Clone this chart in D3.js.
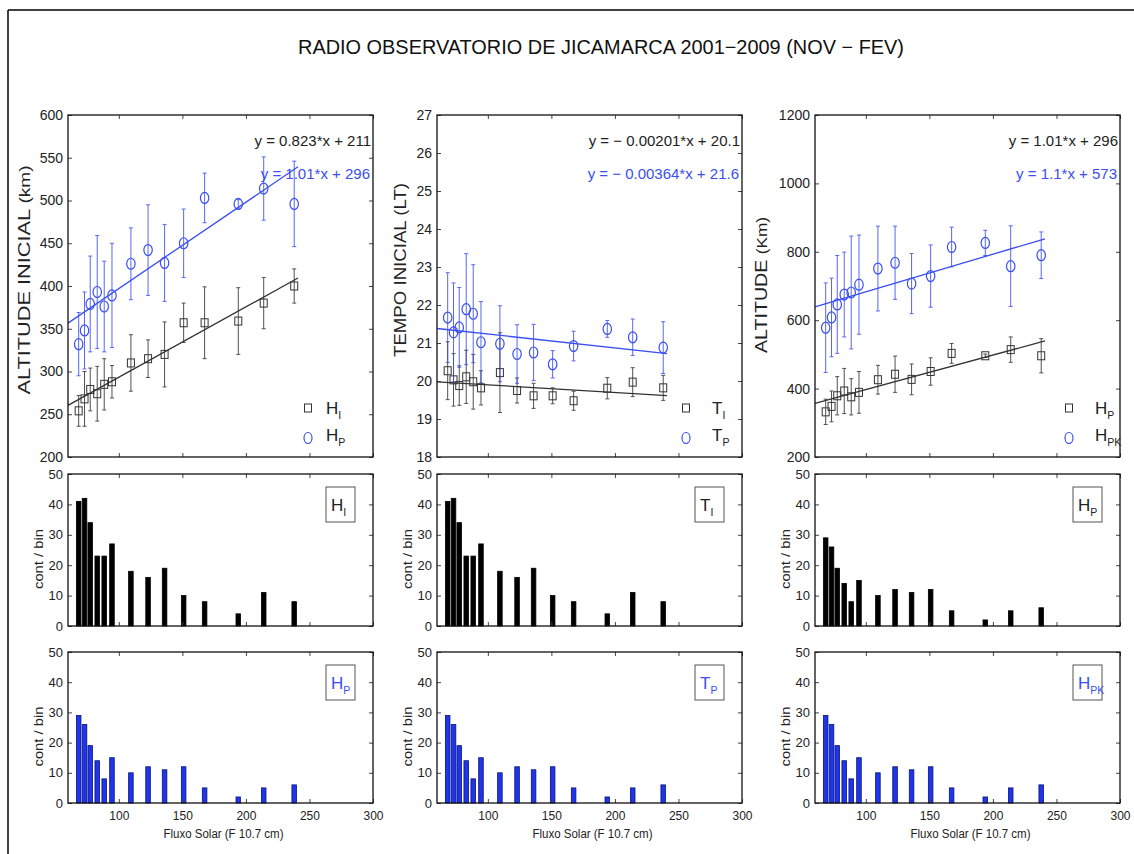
<!DOCTYPE html>
<html><head><meta charset="utf-8">
<script src="https://cdn.jsdelivr.net/npm/d3@7"></script>
<style>
body{margin:0;background:#fff}
svg{display:block}
text{font-family:"Liberation Sans",Arial,Helvetica,sans-serif}
</style>
</head><body>
<svg id="c" width="1134" height="854"></svg>
<script>
// ---------------- DATA ----------------
const titleText = "RADIO OBSERVATORIO DE JICAMARCA 2001\u22122009 (NOV \u2212 FEV)";
const flux = [68.4, 73, 77.5, 83, 88.5, 94.6, 109.5, 123, 136, 151, 167.5, 194, 214, 238];
const hIni    = [254, 268, 279, 274, 285, 288, 310, 315, 320, 357, 357, 359, 380, 400];
const hIniErr = [18, 32, 25, 32, 30, 19, 33, 22, 38, 23, 42, 39, 30, 20];
const hPre    = [332, 348, 379, 393, 376, 389, 426, 442, 427, 450, 503, 496, 514, 496];
const hPreErr = [37, 45, 56, 66, 53, 61, 42, 53, 45, 40, 29, 5, 37, 50];
const tIni    = [20.27, 20.03, 19.88, 20.11, 19.98, 19.82, 20.22, 19.75, 19.61, 19.61, 19.48, 19.81, 19.97, 19.82];
const tIniErr = [0.76, 0.69, 0.52, 0.7, 0.72, 0.45, 1.05, 0.33, 0.33, 0.21, 0.25, 0.28, 0.38, 0.33];
const tPre    = [21.67, 21.28, 21.41, 21.89, 21.77, 21.02, 20.98, 20.71, 20.75, 20.44, 20.92, 21.37, 21.15, 20.88];
const tPreErr = [1.18, 1.3, 1.05, 1.46, 1.29, 1.07, 1.0, 0.77, 0.74, 0.36, 0.39, 0.22, 0.48, 0.68];
const hPk     = [578, 608, 646, 675, 681, 704, 751, 768, 707, 729, 814, 826, 758, 790];
const hPkErr  = [131, 115, 143, 124, 165, 145, 124, 107, 88, 91, 58, 37, 118, 68];
const countIni = [41, 42, 34, 23, 23, 27, 18, 16, 19, 10, 8, 4, 11, 8];
const countPre = [29, 26, 19, 14, 8, 15, 10, 12, 11, 12, 5, 2, 5, 6];

const fitSlopes     = [[0.823, 1.01], [-0.00201, -0.00364], [1.01, 1.1]];
const fitIntercepts = [[211, 296], [20.1, 21.6], [296, 573]];
const fitRange = [60, 241];
const eqTexts = [["y = 0.823*x + 211", "y = 1.01*x + 296"],
                 ["y = \u2212 0.00201*x + 20.1", "y = \u2212 0.00364*x + 21.6"],
                 ["y = 1.01*x + 296", "y = 1.1*x + 573"]];
const legendTop = [[["H","I"],["H","P"]], [["T","I"],["T","P"]], [["H","P"],["H","PK"]]];
const legendHist1 = [["H","I"],["T","I"],["H","P"]];
const legendHist2 = [["H","P"],["T","P"],["H","PK"]];
const yLabels = [["ALTITUDE INICIAL ", "(km)"], ["TEMPO INICIAL (LT)", ""], ["ALTITUDE ", "(Km)"]];
const yDomains = [[200, 600], [18, 27], [200, 1200]];
const yTicks = [[200,250,300,350,400,450,500,550,600],
                [18,19,20,21,22,23,24,25,26,27],
                [200,400,600,800,1000,1200]];
const xDomain = [60, 300];
const xTicks = [100, 150, 200, 250, 300];
const histDomain = [0, 50];
const histTicks = [0, 10, 20, 30, 40, 50];
const histLabel = "cont / bin";
const xLabel = "Fluxo Solar (F 10.7 cm)";

const blackSeries = [[hIni, hIniErr], [tIni, tIniErr], [hPre, hPreErr]];
const blueSeries  = [[hPre, hPreErr], [tPre, tPreErr], [hPk, hPkErr]];
const hist1Counts = [countIni, countIni, countPre];
const hist2Counts = [countPre, countPre, countPre];

// ---------------- LAYOUT ----------------
const svg = d3.select("#c");
const colX = [68, 437, 815];
const W = 305;
const rowTop = [115, 457], rowH1 = [474, 626], rowH2 = [652, 803];
const BLUE = "#3a4ef4", BLUE_BAR = "#1f34ee";
const ylabPos = [[30, 280, 229], [406, 270, 174], [767, 285, 136]];
const legPos = [[-65, 18], [-56, 26], [-51, 26]];

// frame
svg.append("line").attr("x1", 8).attr("y1", 10).attr("x2", 1134).attr("y2", 10).attr("stroke", "#000").attr("stroke-width", 1.5);
svg.append("line").attr("x1", 8).attr("y1", 10).attr("x2", 8).attr("y2", 854).attr("stroke", "#000").attr("stroke-width", 1.5);

svg.append("text").attr("x", 601).attr("y", 54).attr("text-anchor", "middle")
  .attr("font-size", 20).attr("textLength", 606).attr("lengthAdjust", "spacingAndGlyphs")
  .attr("fill", "#111").text(titleText);

function frameAxes(g, x, y, x0, x1, y0, y1, yt, showX, yFont) {
  g.append("g").attr("transform", `translate(0,${y1})`)
    .call(d3.axisBottom(x).tickValues(xTicks).tickSize(-4).tickPadding(8).tickFormat(showX ? d3.format("d") : ""))
    .call(s => { s.select(".domain").remove(); s.selectAll("text").attr("font-size", 12).attr("fill", "#222"); s.selectAll("line").attr("stroke", "#444"); });
  g.append("g").attr("transform", `translate(0,${y0})`)
    .call(d3.axisTop(x).tickValues(xTicks).tickSize(-4).tickFormat(""))
    .call(s => { s.select(".domain").remove(); s.selectAll("line").attr("stroke", "#444"); });
  g.append("g").attr("transform", `translate(${x0},0)`)
    .call(d3.axisLeft(y).tickValues(yt).tickSize(-4).tickPadding(5).tickFormat(d3.format("d")))
    .call(s => { s.select(".domain").remove(); s.selectAll("text").attr("font-size", yFont).attr("fill", "#222"); s.selectAll("line").attr("stroke", "#444"); });
  g.append("g").attr("transform", `translate(${x1},0)`)
    .call(d3.axisRight(y).tickValues(yt).tickSize(-4).tickFormat(""))
    .call(s => { s.select(".domain").remove(); s.selectAll("line").attr("stroke", "#444"); });
  g.append("rect").attr("x", x0).attr("y", y0).attr("width", x1 - x0).attr("height", y1 - y0)
    .attr("fill", "none").attr("stroke", "#111").attr("stroke-width", 1.3);
}

function subText(g, x, y, parts, size, color) {
  const t = g.append("text").attr("x", x).attr("y", y).attr("font-size", size).attr("fill", color);
  t.append("tspan").text(parts[0]);
  t.append("tspan").attr("font-size", size * 0.62).attr("dy", 5).text(parts[1]);
}

for (let c = 0; c < 3; c++) {
  const x0 = colX[c], x1 = colX[c] + W;
  const x = d3.scaleLinear().domain(xDomain).range([x0, x1]);
  const g = svg.append("g");

  // ---- top scatter panel ----
  const y = d3.scaleLinear().domain(yDomains[c]).range([rowTop[1], rowTop[0]]);
  const gp = g.append("g");
  const series = [[blackSeries[c], "#333", 0], [blueSeries[c], BLUE, 1]];
  series.forEach(([[vals, errs], col]) => {
    const eb = gp.append("g").attr("stroke", col).attr("stroke-width", 1).attr("opacity", 0.85);
    flux.forEach((f, i) => {
      const xx = x(f), ya = y(vals[i] + errs[i]), yb = y(vals[i] - errs[i]);
      eb.append("line").attr("x1", xx).attr("x2", xx).attr("y1", ya).attr("y2", yb);
      eb.append("line").attr("x1", xx - 2).attr("x2", xx + 2).attr("y1", ya).attr("y2", ya);
      eb.append("line").attr("x1", xx - 2).attr("x2", xx + 2).attr("y1", yb).attr("y2", yb);
    });
  });
  series.forEach(([, col, k]) => {
    const m = fitSlopes[c][k], b = fitIntercepts[c][k];
    gp.append("line").attr("x1", x(fitRange[0])).attr("y1", y(m * fitRange[0] + b))
      .attr("x2", x(fitRange[1])).attr("y2", y(m * fitRange[1] + b))
      .attr("stroke", col).attr("stroke-width", 1.3);
  });
  const [bv] = blackSeries[c];
  gp.append("g").selectAll("rect").data(bv).join("rect")
    .attr("x", (d, i) => x(flux[i]) - 3.5).attr("y", d => y(d) - 4)
    .attr("width", 7).attr("height", 8).attr("fill", "none").attr("stroke", "#333").attr("stroke-width", 1);
  const [uv] = blueSeries[c];
  gp.append("g").selectAll("ellipse").data(uv).join("ellipse")
    .attr("cx", (d, i) => x(flux[i])).attr("cy", d => y(d))
    .attr("rx", 4.2).attr("ry", 5.5).attr("fill", "none").attr("stroke", BLUE).attr("stroke-width", 1.2);

  frameAxes(g, x, y, x0, x1, rowTop[0], rowTop[1], yTicks[c], false, 14);

  g.append("text").attr("x", x1 - 2).attr("y", 146).attr("text-anchor", "end").attr("font-size", 15).attr("fill", "#222").text(eqTexts[c][0]);
  g.append("text").attr("x", x1 - 3).attr("y", 179).attr("text-anchor", "end").attr("font-size", 15).attr("fill", BLUE).text(eqTexts[c][1]);

  const lx = x1 + legPos[c][0], tx = lx + legPos[c][1];
  g.append("rect").attr("x", lx - 3.5).attr("y", 404).attr("width", 7).attr("height", 8).attr("fill", "none").attr("stroke", "#333");
  g.append("ellipse").attr("cx", lx).attr("cy", 438).attr("rx", 4).attr("ry", 5.5).attr("fill", "none").attr("stroke", BLUE).attr("stroke-width", 1.2);
  subText(g, tx, 414, legendTop[c][0], 17, "#222");
  subText(g, tx, 441, legendTop[c][1], 17, "#222");

  const yl = g.append("text").attr("transform", `translate(${ylabPos[c][0]},${ylabPos[c][1]}) rotate(-90)`)
    .attr("text-anchor", "middle").attr("font-size", 16).attr("fill", "#222")
    .attr("textLength", ylabPos[c][2]).attr("lengthAdjust", "spacingAndGlyphs");
  yl.append("tspan").text(yLabels[c][0]);
  if (yLabels[c][1]) yl.append("tspan").attr("font-size", 14).text(yLabels[c][1]);

  // ---- histograms ----
  [[rowH1, hist1Counts[c], "#000", "#000", legendHist1[c], "#222", false],
   [rowH2, hist2Counts[c], BLUE_BAR, "#0a1470", legendHist2[c], BLUE, true]].forEach(([row, counts, fill, stroke, leg, legCol, showX]) => {
    const yh = d3.scaleLinear().domain(histDomain).range([row[1], row[0]]);
    const gh = g.append("g");
    const bw = x(3.6) - x(0);
    gh.selectAll("rect").data(counts).join("rect")
      .attr("x", (d, i) => x(flux[i]) - bw / 2).attr("y", d => yh(d))
      .attr("width", bw).attr("height", d => yh(0) - yh(d))
      .attr("fill", fill).attr("stroke", stroke).attr("stroke-width", 0.8);
    frameAxes(gh, x, yh, x0, x1, row[0], row[1], histTicks, showX, 13);
    gh.append("rect").attr("x", x1 - 47).attr("y", row[0] + 13).attr("width", 29).attr("height", 35)
      .attr("fill", "#fff").attr("stroke", "#555").attr("stroke-width", 1);
    subText(gh, x1 - 42, row[0] + 37, leg, 17, legCol);
    gh.append("text").attr("transform", `translate(${x0 - 25},${(row[0] + row[1]) / 2 + 9}) rotate(-90)`)
      .attr("text-anchor", "middle").attr("font-size", 12).attr("fill", "#222")
      .attr("textLength", 60).attr("lengthAdjust", "spacingAndGlyphs").text(histLabel);
    if (showX) {
      gh.append("text").attr("x", (x0 + x1) / 2 + 3).attr("y", 838).attr("text-anchor", "middle")
        .attr("font-size", 12).attr("fill", "#222").attr("textLength", 120).attr("lengthAdjust", "spacingAndGlyphs").text(xLabel);
    }
  });
}
</script>
</body></html>
